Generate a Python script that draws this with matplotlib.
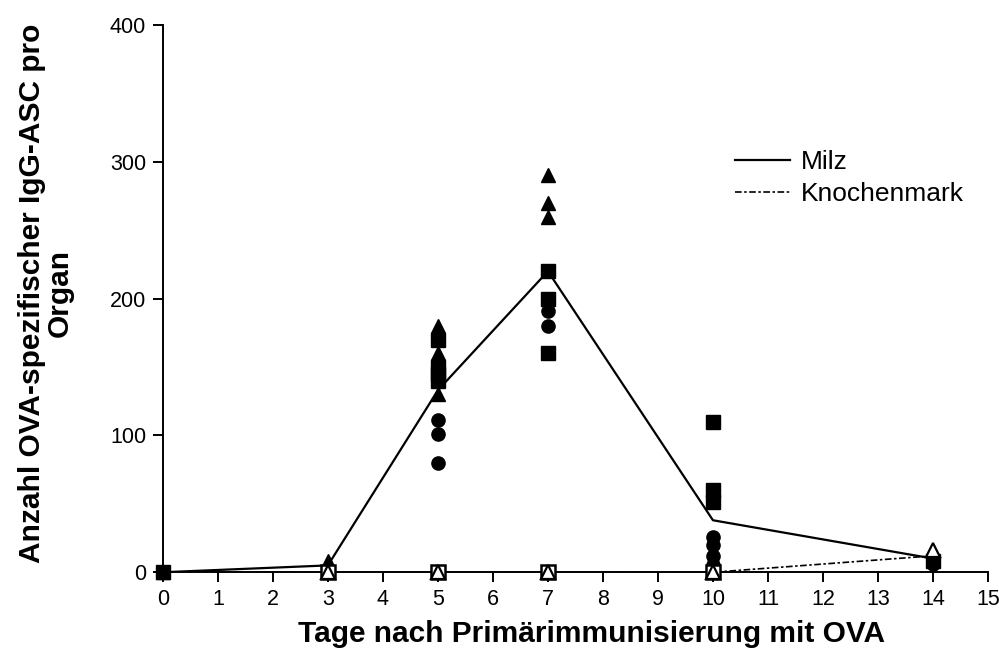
import matplotlib.pyplot as plt

plt.rcParams['font.family'] = ['Liberation Sans', 'DejaVu Sans']

############## Daten ##############
tage = [0, 3, 5, 7, 10, 14]
milz_mittel = [0, 5, 133, 220, 38, 10]
km_mittel = [0, 0, 0, 0, 0, 12]

# Milz Einzelwerte (gefuellt)
milz_dreieck_x = [0, 3, 3, 5, 5, 5, 5, 5, 7, 7, 7, 14]
milz_dreieck_y = [0, 8, 5, 180, 175, 160, 155, 130, 290, 270, 260, 12]
milz_quadrat_x = [0, 5, 5, 5, 5, 7, 7, 7, 10, 10, 10, 14]
milz_quadrat_y = [0, 170, 150, 145, 140, 220, 200, 160, 110, 60, 51, 8]
milz_kreis_x = [0, 3, 5, 5, 5, 7, 7, 10, 10, 10, 10, 14]
milz_kreis_y = [0, 2, 111, 101, 80, 191, 180, 26, 20, 12, 5, 6]

# Knochenmark Einzelwerte (offen)
km_quadrat_x = [3, 5, 7, 10]
km_quadrat_y = [0, 0, 0, 0]
km_dreieck_x = [3, 5, 7, 10, 14]
km_dreieck_y = [0, 0, 0, 0, 16]

############## Zeichnen ##############
fig = plt.figure(figsize=(9.99, 6.57), dpi=100)
ax = fig.add_axes([0.163, 0.129, 0.826, 0.833])

ax.plot(tage, milz_mittel, color='black', lw=1.6, label='Milz', zorder=2)
ax.plot(tage, km_mittel, color='black', lw=1.2, ls=(0, (4, 1.5, 1.5, 1.5)),
        label='Knochenmark', zorder=2)

ax.plot(milz_kreis_x, milz_kreis_y, 'o', color='black', ms=9.5, zorder=3, clip_on=False)
ax.plot(milz_quadrat_x, milz_quadrat_y, 's', color='black', ms=9.5, zorder=3, clip_on=False)
ax.plot(milz_dreieck_x, milz_dreieck_y, '^', color='black', ms=10, zorder=3, clip_on=False)
ax.plot(km_quadrat_x, km_quadrat_y, 's', mfc='white', mec='black', mew=1.8, ms=10.5,
        zorder=4, clip_on=False)
ax.plot(km_dreieck_x, km_dreieck_y, '^', mfc='white', mec='black', mew=1.6, ms=9.5,
        zorder=5, clip_on=False)

# Achsen
ax.set_xlim(0, 15)
ax.set_ylim(0, 400)
ax.set_xticks(range(0, 16))
ax.set_yticks([0, 100, 200, 300, 400])
ax.spines['top'].set_visible(False)
ax.spines['right'].set_visible(False)
ax.spines['left'].set_linewidth(1.4)
ax.spines['bottom'].set_linewidth(1.4)
ax.tick_params(direction='out', length=7, width=1.4, labelsize=15.5, pad=5)

ax.set_xlabel('Tage nach Primärimmunisierung mit OVA', fontsize=21.5, fontweight='bold')
ax.xaxis.set_label_coords(0.519, -0.112)
ax.xaxis.label.set_va('center')
ax.set_ylabel('Anzahl OVA-spezifischer IgG-ASC pro\nOrgan', fontsize=21.5, fontweight='bold',
              linespacing=1.0)
ax.yaxis.set_label_coords(-0.142, 0.51)
ax.yaxis.label.set_va('center')

ax.legend(loc='center left', bbox_to_anchor=(0.677, 0.72), frameon=False, fontsize=19,
          handlelength=2.1, labelspacing=0.3, handletextpad=0.4, borderpad=0)

plt.savefig('out.png', dpi=100)
